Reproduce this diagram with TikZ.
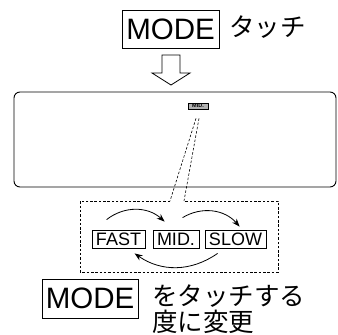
\documentclass[tikz,border=0pt]{standalone}
\usepackage{fontspec}
\setmainfont{Liberation Sans}
\newfontfamily\jpfont{Noto Sans CJK JP}
\usetikzlibrary{positioning,arrows.meta}

\begin{document}
\begin{tikzpicture}[x=1pt,y=-1pt]
\tikzset{every node/.style={inner sep=0pt},
         modekey/.style={draw,line width=0.9pt,minimum width=97pt,minimum height=38pt,
                         font=\fontsize{29.5}{29.5}\selectfont},
         speedkey/.style={draw,line width=0.8pt,minimum height=18pt,inner xsep=3.5pt,
                          font=\fontsize{18}{18}\selectfont},
         jtext/.style={font=\jpfont\fontsize{25.5}{26}\selectfont,align=left},
         callout/.style={line width=0.6pt,dash pattern=on 2.5pt off 1.8pt},
         cycle arrow/.style={line width=0.8pt,-{Stealth[length=8pt,width=6pt]}}}
\useasboundingbox (0,0) rectangle (338,335);

% key pressed
\node[modekey] (mode) at (170.5,29) {MODE};
\node[jtext,anchor=west] (touch) at (229,27) {タッチ};

% hollow arrow down
\draw[line width=0.8pt] (162,55) -- (180,55) -- (180,73) -- (190,73) -- (171,85)
    -- (152,73) -- (162,73) -- cycle;

% display panel
\node[draw,line width=0.9pt,rounded corners=6pt,minimum width=322pt,minimum height=95pt]
    (panel) at (175,139.5) {};
\node[draw,line width=0.7pt,fill=black!30,minimum width=20pt,minimum height=6pt,
      font=\bfseries\fontsize{5.5}{5.5}\selectfont] (mini) at (198,106) {MID.};

% zoomed call-out
\coordinate (gapl) at (170,201);
\coordinate (gapr) at (184,201);
\draw[callout] (gapl) -- (80,201) -- (80,272) -- (278,272) -- (278,201) -- (gapr);
\draw[callout] ([xshift=-2pt,yshift=-9pt]mini.south) -- (gapl);
\draw[callout] ([xshift=1pt,yshift=-9pt]mini.south) -- (gapr);

\node[speedkey,minimum width=53pt] (fast) at (118.5,239) {FAST};
\node[speedkey,minimum width=46pt] (mid) at (176,239) {MID.};
\node[speedkey,minimum width=61pt] (slow) at (235.5,239) {SLOW};

\draw[cycle arrow] ([xshift=15pt,yshift=10pt]fast.north west)
    to[bend left=40] ([xshift=12pt,yshift=8pt]mid.north west);
\draw[cycle arrow] ([xshift=30pt,yshift=12pt]mid.north west)
    to[bend left=40] ([xshift=35pt,yshift=3pt]slow.north west);
\draw[cycle arrow] ([xshift=13pt,yshift=-5pt]slow.south west)
    to[bend left=35] ([xshift=43pt,yshift=-5pt]fast.south west);

% explanation
\node[modekey,minimum width=96pt,minimum height=39pt] (mode2) at (90,298.5) {MODE};
\node[jtext,anchor=north west] (note) at (152,285) {をタッチする\\度に変更};
\end{tikzpicture}
\end{document}
